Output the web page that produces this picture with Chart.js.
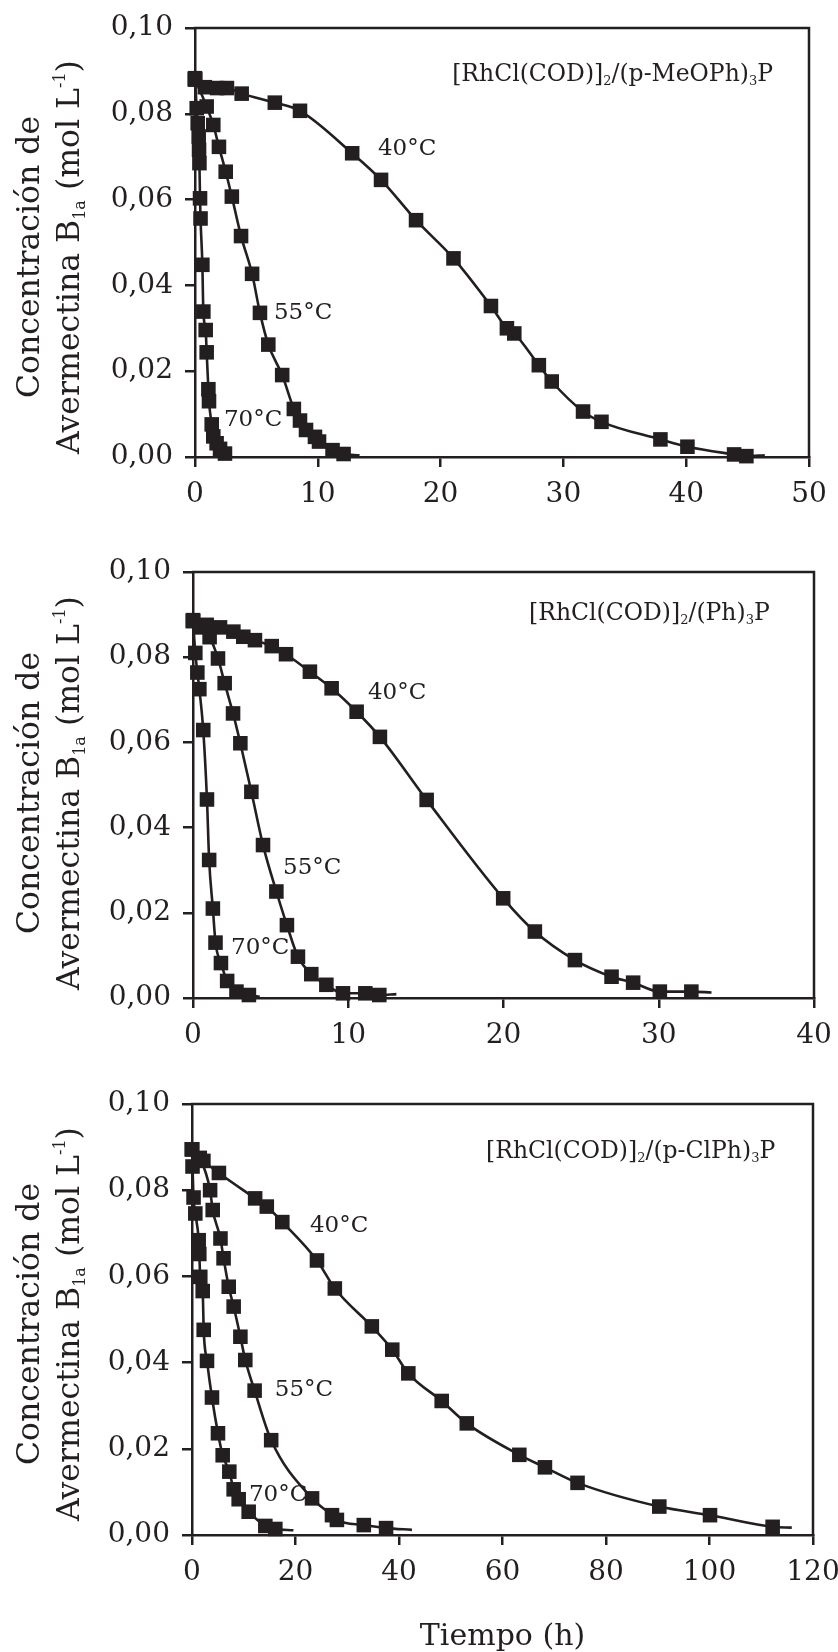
<!DOCTYPE html>
<html><head><meta charset="utf-8">
<script src="https://cdn.jsdelivr.net/npm/chart.js@4.4.1/dist/chart.umd.min.js"></script>
<style>
html,body{margin:0;padding:0;background:#fff;}
#wrap{position:relative;width:838px;height:1652px;overflow:hidden;}
#wrap canvas{position:absolute;left:0;}
</style></head><body>
<div id="wrap">
<canvas id="c1" width="838" height="520" style="top:0px"></canvas>
<canvas id="c2" width="838" height="520" style="top:540px"></canvas>
<canvas id="c3" width="838" height="572" style="top:1080px"></canvas>
</div>
<script>
// ---------- DATA (time in h, concentration in mol/L) ----------
// Panel 1: [RhCl(COD)]2/(p-MeOPh)3P
const p1_t40 = [0, 0.8, 1.8, 2.6, 3.8, 6.5, 8.55, 12.8, 15.15, 18.0, 21.05, 24.1, 25.4, 26.0, 28.0, 29.05, 31.6, 33.1, 37.9, 40.1, 43.9, 44.9];
const p1_c40 = [0.0883, 0.0862, 0.0860, 0.0860, 0.0847, 0.0826, 0.0807, 0.0708, 0.0646, 0.0552, 0.0463, 0.0352, 0.0300, 0.0288, 0.0214, 0.0176, 0.0106, 0.0082, 0.0041, 0.0024, 0.0006, 0.0002];
const p1_fitEnd40 = [46.4, 0.0004];
const p1_t55 = [0, 0.95, 1.49, 1.95, 2.5, 3.0, 3.75, 4.65, 5.29, 5.97, 7.1, 8.05, 8.55, 9.04, 9.77, 10.1, 11.2, 12.1];
const p1_c55 = [0.0880, 0.0817, 0.0774, 0.0723, 0.0665, 0.0607, 0.0515, 0.0427, 0.0336, 0.0262, 0.0191, 0.0112, 0.0085, 0.0063, 0.0047, 0.0036, 0.0016, 0.0007];
const p1_fitEnd55 = [13.4, 0.0004];
const p1_t70 = [0, 0.14, 0.22, 0.3, 0.33, 0.36, 0.41, 0.45, 0.6, 0.68, 0.87, 0.95, 1.09, 1.14, 1.36, 1.49, 1.76, 2.04, 2.44];
const p1_c70 = [0.0880, 0.0813, 0.0778, 0.0747, 0.0716, 0.0685, 0.0603, 0.0556, 0.0448, 0.0339, 0.0296, 0.0244, 0.0158, 0.0130, 0.0076, 0.0048, 0.0032, 0.0019, 0.0008];
const p1_fitEnd70 = [2.85, 0.0003];

// Panel 2: [RhCl(COD)]2/(Ph)3P
const p2_t40 = [0, 0.88, 1.74, 2.6, 3.24, 3.99, 5.07, 5.99, 7.53, 8.93, 10.54, 12.04, 15.05, 19.98, 22.02, 24.6, 26.96, 28.35, 30.07, 32.1];
const p2_c40 = [0.0887, 0.0876, 0.0870, 0.0860, 0.0848, 0.0840, 0.0826, 0.0807, 0.0766, 0.0727, 0.0672, 0.0613, 0.0465, 0.0234, 0.0156, 0.0089, 0.0050, 0.0036, 0.0015, 0.0015];
const p2_fitEnd40 = [33.4, 0.0013];
const p2_t55 = [0, 0.55, 1.07, 1.61, 2.04, 2.58, 3.05, 3.76, 4.51, 5.37, 6.05, 6.76, 7.62, 8.59, 9.66, 11.1, 12.0];
const p2_c55 = [0.0885, 0.0870, 0.0847, 0.0797, 0.0739, 0.0668, 0.0598, 0.0484, 0.0359, 0.0250, 0.0171, 0.0097, 0.0056, 0.0031, 0.0011, 0.0011, 0.0007];
const p2_fitEnd55 = [13.1, 0.0009];
const p2_t70 = [0, 0.15, 0.28, 0.41, 0.66, 0.9, 1.04, 1.28, 1.45, 1.8, 2.2, 2.8, 3.6];
const p2_c70 = [0.0885, 0.0810, 0.0764, 0.0725, 0.0629, 0.0466, 0.0324, 0.0210, 0.0130, 0.0082, 0.0040, 0.0015, 0.0007];
const p2_fitEnd70 = [4.3, 0.0003];

// Panel 3: [RhCl(COD)]2/(p-ClPh)3P
const p3_t40 = [0, 2.2, 5.2, 12.2, 14.45, 17.45, 24.15, 27.6, 34.75, 38.7, 41.8, 48.25, 53.1, 63.25, 68.2, 74.5, 90.3, 100.1, 112.2];
const p3_c40 = [0.0895, 0.0868, 0.0840, 0.0781, 0.0762, 0.0726, 0.0637, 0.0572, 0.0484, 0.0430, 0.0375, 0.0311, 0.0259, 0.0186, 0.0157, 0.0121, 0.0066, 0.0046, 0.0019];
const p3_fitEnd40 = [115.9, 0.0017];
const p3_t55 = [0, 1.5, 3.5, 4.0, 5.5, 6.1, 7.1, 8.05, 9.35, 10.3, 12.1, 15.3, 23.2, 27.05, 28.0, 33.2, 37.5];
const p3_c55 = [0.0895, 0.0875, 0.0800, 0.0754, 0.0688, 0.0642, 0.0576, 0.0530, 0.0460, 0.0406, 0.0335, 0.0220, 0.0085, 0.0046, 0.0035, 0.0023, 0.0016];
const p3_fitEnd55 = [42.5, 0.0012];
const p3_t70 = [0, 0.1, 0.3, 0.64, 1.29, 1.41, 1.6, 2.07, 2.26, 2.9, 3.86, 5.02, 5.93, 7.21, 8.05, 9.02, 10.95, 14.17, 16.1];
const p3_c70 = [0.0895, 0.0855, 0.0783, 0.0746, 0.0684, 0.0652, 0.0599, 0.0566, 0.0476, 0.0404, 0.0319, 0.0236, 0.0185, 0.0147, 0.0106, 0.0083, 0.0054, 0.0021, 0.0014];
const p3_fitEnd70 = [19.6, 0.0011];

// axis ranges / ticks
const yTicks = [0, 0.02, 0.04, 0.06, 0.08, 0.10];
const p1_xMax = 50, p1_xStep = 10;
const p2_xMax = 40, p2_xStep = 10;
const p3_xMax = 120, p3_xStep = 20;

const tempLabels = ['40°C', '55°C', '70°C'];
const catalysts = [
  ['[RhCl(COD)]', '2', '/(p-MeOPh)', '3', 'P'],
  ['[RhCl(COD)]', '2', '/(Ph)', '3', 'P'],
  ['[RhCl(COD)]', '2', '/(p-ClPh)', '3', 'P']
];

// ---------- STYLE ----------
const INK = '#231f20';
const FAM = '"DejaVu Serif", serif';

function pts(t, c, end) {
  const a = t.map((x, i) => ({ x: x, y: c[i] }));
  if (end) a.push({ x: end[0], y: end[1] });
  return a;
}

function drawRich(ctx, segs, x, y) {
  segs.forEach(s => {
    ctx.font = s.size + 'px ' + FAM;
    ctx.fillText(s.text, x, y + (s.dy || 0));
    x += ctx.measureText(s.text).width;
  });
}
function richWidth(ctx, segs) {
  let w = 0;
  segs.forEach(s => { ctx.font = s.size + 'px ' + FAM; w += ctx.measureText(s.text).width; });
  return w;
}

const panelPlugin = {
  id: 'panel',
  beforeDatasetsDraw(chart) {
    const { ctx, chartArea: a } = chart;
    ctx.save();
    ctx.strokeStyle = INK; ctx.lineWidth = 2.5; ctx.lineCap = 'square';
    ctx.beginPath();
    ctx.moveTo(a.left, a.top); ctx.lineTo(a.right, a.top); ctx.lineTo(a.right, a.bottom);
    ctx.stroke();
    ctx.restore();
  },
  afterDraw(chart, args, o) {
    const { ctx, scales } = chart;
    ctx.save();
    ctx.fillStyle = INK;
    // y-axis title (two lines, rotated)
    const l1 = [{ text: 'Concentración de', size: 31.5 }];
    const l2 = [{ text: 'Avermectina B', size: 31.5 }, { text: '1a', size: 16, dy: 6 },
                { text: ' (mol L', size: 31.5 }, { text: '-1', size: 16, dy: -14 }, { text: ')', size: 31.5 }];
    ctx.textBaseline = 'alphabetic';
    [[l1, 39], [l2, 79]].forEach(([segs, bx]) => {
      const w = richWidth(ctx, segs);
      ctx.save();
      ctx.translate(bx, o.titleCy);
      ctx.rotate(-Math.PI / 2);
      drawRich(ctx, segs, -w / 2, 0);
      ctx.restore();
    });
    // catalyst label (right aligned)
    const cat = o.catalyst;
    const cs = [{ text: cat[0], size: 23.5 }, { text: cat[1], size: 13, dy: 4 }, { text: cat[2], size: 23.5 },
                { text: cat[3], size: 13, dy: 4 }, { text: cat[4], size: 23.5 }];
    const cw = richWidth(ctx, cs);
    drawRich(ctx, cs, scales.x.getPixelForValue(o.catPos[0]) - cw, scales.y.getPixelForValue(o.catPos[1]));
    // temperature labels
    ctx.font = '23px ' + FAM;
    ctx.textBaseline = 'middle';
    ctx.textAlign = 'left';
    o.tempPos.forEach((p, i) => {
      ctx.fillText(tempLabels[i], scales.x.getPixelForValue(p[0]), scales.y.getPixelForValue(p[1]));
    });
    ctx.restore();
  }
};

function makeChart(id, series, xMax, xStep, lay, extra) {
  const datasets = [];
  series.forEach(s => {
    datasets.push({ data: pts(s[1], s[2], s[3]), showLine: true, pointRadius: 0, borderColor: INK,
      borderWidth: 2.6, cubicInterpolationMode: 'monotone', clip: false, order: 2, fill: false });
    datasets.push({ data: pts(s[1], s[2]), showLine: false, pointStyle: 'rect', pointRadius: 10.3,
      pointHoverRadius: 10.3, backgroundColor: INK, borderColor: INK, borderWidth: 0, clip: false, order: 1 });
  });
  const tickFont = { family: FAM, size: 28, lineHeight: 1 };
  return new Chart(document.getElementById(id), {
    type: 'line',
    data: { datasets },
    options: {
      responsive: false, animation: false, events: [],
      layout: { padding: { top: lay.top, right: lay.right, left: 0, bottom: 0 } },
      plugins: { legend: { display: false }, tooltip: { enabled: false }, panel: extra },
      scales: {
        x: {
          type: 'linear', min: 0, max: xMax,
          ticks: { stepSize: xStep, color: INK, font: tickFont, padding: 14, maxRotation: 0, autoSkip: false },
          grid: { display: true, drawOnChartArea: false, drawTicks: true, tickLength: 10, color: INK, lineWidth: 2.5 },
          border: { display: true, color: INK, width: 2.5 },
          title: lay.xTitle ? { display: true, text: 'Tiempo (h)', color: INK,
            font: { family: FAM, size: 30, lineHeight: 1 }, padding: { top: 0, bottom: 0 } } : { display: false },
          afterFit(sc) { sc.height = lay.xh; sc.paddingLeft = 0; sc.paddingRight = 0; }
        },
        y: {
          type: 'linear', min: 0, max: 0.1,
          afterBuildTicks(sc) { sc.ticks = yTicks.map(v => ({ value: v })); },
          ticks: { color: INK, font: tickFont, padding: 12,
            callback: v => v.toFixed(2).replace('.', ',') },
          grid: { display: true, drawOnChartArea: false, drawTicks: true, tickLength: 10, color: INK, lineWidth: 2.5 },
          border: { display: true, color: INK, width: 2.5 },
          afterFit(sc) { sc.width = lay.left; sc.paddingTop = 0; sc.paddingBottom = 0; }
        }
      }
    },
    plugins: [panelPlugin]
  });
}

makeChart('c1', [
  ['40', p1_t40, p1_c40, p1_fitEnd40], ['55', p1_t55, p1_c55, p1_fitEnd55], ['70', p1_t70, p1_c70, p1_fitEnd70]
], p1_xMax, p1_xStep, { top: 28, right: 29, left: 195, xh: 63 },
  { titleCy: 257, catalyst: catalysts[0], catPos: [47.07, 0.0876],
    tempPos: [[14.9, 0.0719], [6.43, 0.0336], [2.36, 0.0087]] });

makeChart('c2', [
  ['40', p2_t40, p2_c40, p2_fitEnd40], ['55', p2_t55, p2_c55, p2_fitEnd55], ['70', p2_t70, p2_c70, p2_fitEnd70]
], p2_xMax, p2_xStep, { top: 32, right: 24, left: 193, xh: 62 },
  { titleCy: 253, catalyst: catalysts[1], catPos: [37.15, 0.0887],
    tempPos: [[11.27, 0.0716], [5.8, 0.0305], [2.45, 0.0117]] });

makeChart('c3', [
  ['40', p3_t40, p3_c40, p3_fitEnd40], ['55', p3_t55, p3_c55, p3_fitEnd55], ['70', p3_t70, p3_c70, p3_fitEnd70]
], p3_xMax, p3_xStep, { top: 24, right: 25, left: 192, xh: 117, xTitle: true },
  { titleCy: 244, catalyst: catalysts[2], catPos: [112.7, 0.0875],
    tempPos: [[22.8, 0.0717], [16.0, 0.0336], [11.0, 0.0093]] });
</script>
</body></html>
